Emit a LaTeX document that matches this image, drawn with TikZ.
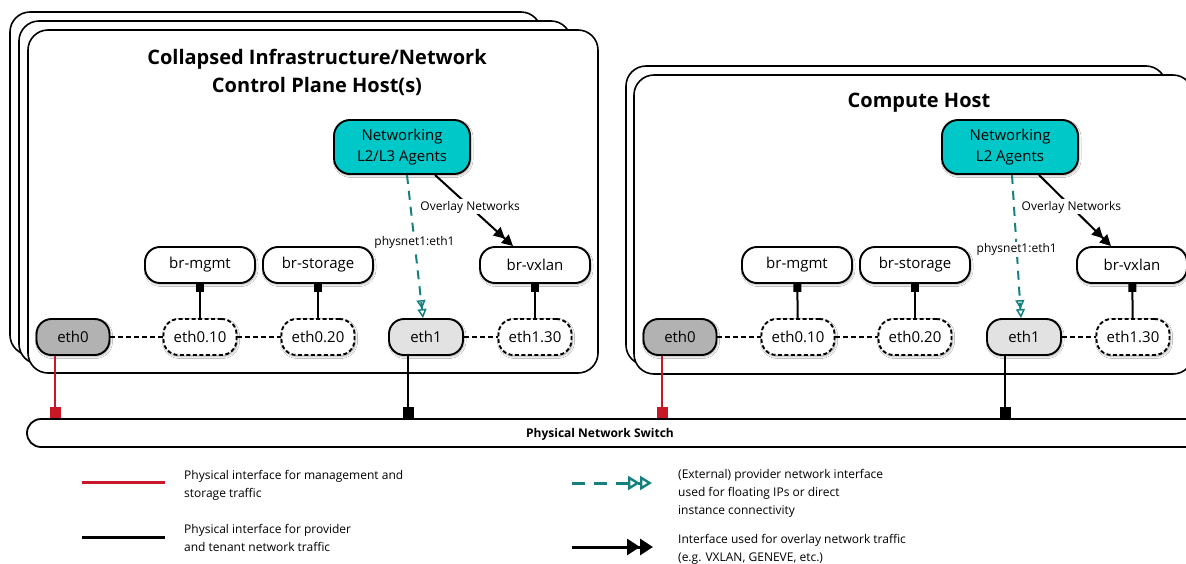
\documentclass[tikz,border=0pt]{standalone}
\usepackage{fontspec}
\setmainfont{Open Sans}
\usetikzlibrary{arrows.meta,calc,shadows.blur}

\definecolor{agentc}{RGB}{0,200,200}
\definecolor{tealc}{RGB}{22,128,128}
\definecolor{redc}{RGB}{200,24,40}
\definecolor{ethzero}{RGB}{178,178,178}
\definecolor{ethone}{RGB}{226,226,226}

\tikzset{
  hostbox/.style={draw=black, line width=1.6pt, fill=white, rounded corners=20pt},
  hosttitle/.style={align=center, font=\bfseries\fontsize{20}{28}\selectfont},
  pill/.style={draw=black, line width=1.9pt, rounded corners=15pt, minimum height=36pt,
    inner sep=0pt, font=\fontsize{15}{17}\selectfont,
    blur shadow={shadow xshift=1pt, shadow yshift=-1.5pt, shadow blur radius=2pt, shadow opacity=35}},
  bridge/.style={pill, fill=white, minimum width=110pt},
  vlan/.style={pill, fill=white, dash pattern=on 4pt off 2.5pt, minimum width=73pt},
  physzero/.style={pill, fill=ethzero, minimum width=73pt},
  physone/.style={pill, fill=ethone, minimum width=74pt},
  agent/.style={draw=black, line width=1.9pt, fill=agentc, rounded corners=16pt,
    minimum width=136pt, minimum height=54pt, align=center, inner sep=0pt,
    font=\fontsize{15}{21}\selectfont,
    blur shadow={shadow xshift=1pt, shadow yshift=-1.5pt, shadow blur radius=2pt, shadow opacity=35}},
  vlanlink/.style={draw=black, line width=2pt, dash pattern=on 5pt off 3pt},
  brlink/.style={draw=black, line width=2pt, -{Square[length=8pt,width=8pt]}},
  uplinkred/.style={draw=redc, line width=2.2pt, -{Square[length=11pt,width=11pt]}},
  uplinkblack/.style={draw=black, line width=2.2pt, -{Square[length=11pt,width=11pt]}},
  provider/.style={draw=tealc, line width=2pt, dash pattern=on 9pt off 7pt,
    -{Triangle[open,length=9pt,width=9pt,line width=1.5pt]Triangle[open,length=9pt,width=9pt,line width=1.5pt]}},
  overlay/.style={draw=black, line width=2pt,
    -{Triangle[length=11pt,width=11pt]Triangle[length=11pt,width=11pt]}},
  linklabel/.style={fill=white, inner sep=1.5pt, font=\fontsize{12}{14}\selectfont},
  legtext/.style={align=left, inner sep=0pt, anchor=north west, font=\fontsize{12}{18}\selectfont},
}

\begin{document}
\begin{tikzpicture}[x=1pt, y=-1pt]
\useasboundingbox (0,0) rectangle (1186,563);
\clip (0,0) rectangle (1186,563);
\fill[white] (0,0) rectangle (1186,563);

% ---------- left host stack ----------
\draw[hostbox] (10,12) rectangle (541,355);
\draw[hostbox] (19,21) rectangle (571,364);
\draw[hostbox] (28,30) rectangle (598,373);
\node[hosttitle] (t1) at (317,72.5) {Collapsed Infrastructure/Network\\Control Plane Host(s)};

\node[agent] (ag1) at (402,147) {Networking\\L2/L3 Agents};
\node[bridge] (brm1) at (200,265) {br-mgmt};
\node[bridge] (brs1) at (318,265) {br-storage};
\node[bridge] (brv1) at (535,265) {br-vxlan};
\node[physzero] (ez1) at (73,337) {eth0};
\node[vlan] (ea1) at (200,337) {eth0.10};
\node[vlan] (eb1) at (318,337) {eth0.20};
\node[physone] (eo1) at (426,337) {eth1};
\node[vlan] (ec1) at (535,337) {eth1.30};

% ---------- right host stack ----------
\draw[hostbox] (626,66) rectangle (1166,365);
\draw[hostbox] (634,75) rectangle (1193,374);
\node[hosttitle] (t2) at (919,103) {Compute Host};

\node[agent] (ag2) at (1010,147) {Networking\\L2 Agents};
\node[bridge] (brm2) at (797,265) {br-mgmt};
\node[bridge] (brs2) at (915,265) {br-storage};
\node[bridge] (brv2) at (1132,265) {br-vxlan};
\node[physzero] (ez2) at (680,337) {eth0};
\node[vlan] (ea2) at (798,337) {eth0.10};
\node[vlan] (eb2) at (915,337) {eth0.20};
\node[physone] (eo2) at (1024,337) {eth1};
\node[vlan] (ec2) at (1133,337) {eth1.30};

% ---------- switch ----------
\node[draw=black, line width=1.8pt, fill=white, rounded corners=14pt, minimum width=1183pt,
  minimum height=28pt, inner sep=0pt] (sw) at (618.5,433) {};
\node[font=\bfseries\fontsize{12}{14}\selectfont, inner sep=0pt] (swt) at (600,434) {Physical Network Switch};

% ---------- links inside hosts ----------
\foreach \h in {1,2}{
  \draw[vlanlink] (ez\h) -- (ea\h);
  \draw[vlanlink] (ea\h) -- (eb\h);
  \draw[vlanlink] (eo\h) -- (ec\h);
  \draw[brlink] (ea\h) -- (brm\h);
  \draw[brlink] (eb\h) -- (brs\h);
  \draw[brlink] (ec\h) -- (brv\h);
}

% provider (teal dashed) arrows
\coordinate (p1s) at ($(ag1.south)+(5,0)$);
\coordinate (p1e) at ($(eo1.north)+(-3,0)$);
\draw[provider] (p1s) -- node[linklabel, pos=0.47] (pl1) {physnet1:eth1} (p1e);
\coordinate (p2s) at ($(ag2.south)+(2,0)$);
\coordinate (p2e) at ($(eo2.north)+(-3,0)$);
\draw[provider] (p2s) -- node[linklabel, pos=0.52] (pl2) {physnet1:eth1} (p2e);

% overlay arrows
\coordinate (o1s) at ($(ag1.south)+(33,0)$);
\coordinate (o1e) at ($(brv1.north)+(-22,0)$);
\draw[overlay] (o1s) -- node[linklabel, pos=0.45] (ol1) {Overlay Networks} (o1e);
\coordinate (o2s) at ($(ag2.south)+(29,0)$);
\coordinate (o2e) at ($(brv2.north)+(-21,0)$);
\draw[overlay] (o2s) -- node[linklabel, pos=0.45] (ol2) {Overlay Networks} (o2e);

% uplinks to the switch
\coordinate (r1) at ($(ez1.south)+(-18,0)$);
\draw[uplinkred] (r1) -- (r1 |- sw.north);
\coordinate (k1) at ($(eo1.south)+(-18,0)$);
\draw[uplinkblack] (k1) -- (k1 |- sw.north);
\coordinate (r2) at ($(ez2.south)+(-18,0)$);
\draw[uplinkred] (r2) -- (r2 |- sw.north);
\coordinate (k2) at ($(eo2.south)+(-19,0)$);
\draw[uplinkblack] (k2) -- (k2 |- sw.north);

% ---------- legend ----------
\draw[redc, line width=3pt] (82,482) -- (165,482);
\node[legtext] (lg1) at (184,470) {Physical interface for management and\\storage traffic};
\draw[black, line width=3pt] (82,537) -- (165,537);
\node[legtext] (lg2) at (184,524) {Physical interface for provider\\and tenant network traffic};
\draw[tealc, line width=3pt, dash pattern=on 13pt off 9pt,
  -{Triangle[open,length=12pt,width=14pt,line width=2.4pt]Triangle[open,length=12pt,width=14pt,line width=2.4pt]}]
  (572,483) -- (652,483);
\node[legtext] (lg3) at (678,469) {(External) provider network interface\\used for floating IPs or direct\\instance connectivity};
\draw[black, line width=3pt, -{Triangle[length=13pt,width=16pt]Triangle[length=13pt,width=16pt]}]
  (572,547) -- (653,547);
\node[legtext] (lg4) at (678,534) {Interface used for overlay network traffic\\(e.g. VXLAN, GENEVE, etc.)};
\end{tikzpicture}
\end{document}
